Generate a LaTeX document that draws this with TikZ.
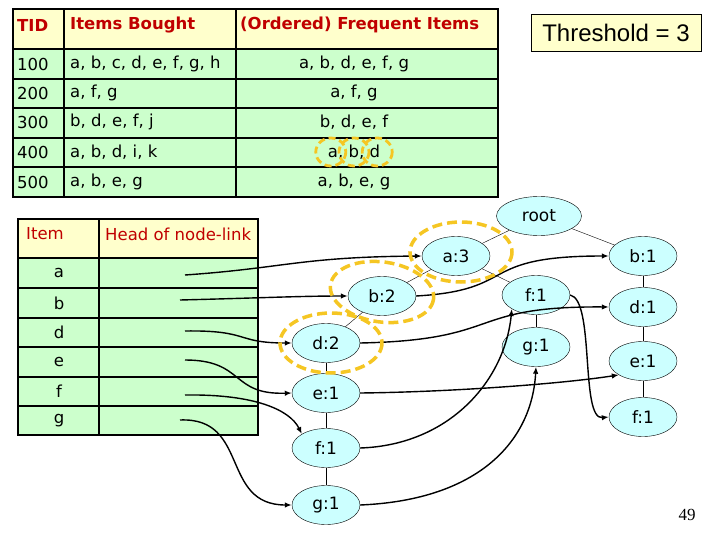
\documentclass[tikz,border=0pt]{standalone}
\usepackage{fontspec}
\setmainfont{DejaVu Sans}
\newfontfamily\arialfont{Liberation Sans}
\newfontfamily\numfont{Liberation Serif}
\usetikzlibrary{shapes.geometric,arrows.meta}

\definecolor{hdyellow}{HTML}{FFFFCC}
\definecolor{rowgreen}{HTML}{CCFFCC}
\definecolor{fpcyan}{HTML}{CCFFFF}
\definecolor{hdred}{HTML}{C00000}
\definecolor{hlgold}{HTML}{F5C623}

\newcommand{\tabsize}{\fontsize{16.5}{19}\selectfont}
\newcommand{\treesize}{\fontsize{17}{20}\selectfont}

\tikzset{
  celltext/.style={font=\tabsize, inner sep=1pt},
  hdtext/.style={celltext, text=hdred, anchor=west},
  fpnode/.style={ellipse, draw, thin, fill=fpcyan, minimum width=68pt,
    minimum height=39pt, inner sep=0pt, font=\treesize},
  treeedge/.style={thin},
  link/.style={line width=1.4pt, -{Latex[length=7pt,width=5.5pt]}},
  hl/.style={draw=hlgold, line width=3.5pt, dash pattern=on 10pt off 5pt},
  hlsmall/.style={draw=hlgold, line width=2.8pt, dash pattern=on 7pt off 4pt}
}

\begin{document}
\begin{tikzpicture}[x=1pt,y=-1pt]
    \useasboundingbox (0,0) rectangle (720,540);

    % transaction table
    \fill[hdyellow] (13,9) rectangle (498,49);
    \fill[rowgreen] (13,49) rectangle (498,197);
    \foreach \y in {49,79,108,138,167}
      \draw[line width=1.5pt] (13,\y) -- (498,\y);
    \draw[line width=1.5pt] (64,9) -- (64,197);
    \draw[line width=1.5pt] (236,9) -- (236,197);
    \draw[line width=2.5pt] (13,9) rectangle (498,197);

    \node[hdtext] (tid) at (16,25) {\bfseries TID};
    \node[hdtext] (bought) at (69,25) {\bfseries Items Bought};
    \node[hdtext] (freq) at (239,25) {\bfseries (Ordered) Frequent Items};

    \foreach \y/\tid/\items/\freq [count=\i] in
      {64/100/{a, b, c, d, e, f, g, h}/{a, b, d, e, f, g},
       93/200/{a, f, g}/{a, f, g},
       122/300/{b, d, e, f, j}/{b, d, e, f},
       152/400/{a, b, d, i, k}/{a, b, d},
       182/500/{a, b, e, g}/{a, b, e, g}}
    {
      \node[celltext, anchor=west] (tid\i) at (16,\y) {\tid};
      \node[celltext, anchor=west] (items\i) at (69,\y) {\items};
      \node[celltext] (freq\i) at (354,\y) {\freq};
    }

    \node[draw, thin, fill=hdyellow, minimum width=170pt, minimum height=37pt,
      font=\arialfont\fontsize{24}{28}\selectfont] (threshold) at (616,33) {Threshold = 3};

    % header table
    \fill[hdyellow] (18,219) rectangle (258,258);
    \fill[rowgreen] (18,258) rectangle (258,435);
    \foreach \y in {258,288,318,347,377,406}
      \draw[line width=1.5pt] (18,\y) -- (258,\y);
    \draw[line width=1.5pt] (99,219) -- (99,435);
    \draw[line width=2.5pt] (18,219) rectangle (258,435);

    \node[hdtext] (itemhd) at (25,234) {Item};
    \node[hdtext] (headhd) at (104,234) {Head of node-link};

    \foreach \it/\y in {a/273,b/303,d/332,e/362,f/391,g/421}
      \node[celltext] (item-\it) at (59,\y) {\it};

    \coordinate (link-a) at (185,275);
    \coordinate (link-b) at (180,300);
    \coordinate (link-d) at (185,331);
    \coordinate (link-e) at (185,360);
    \coordinate (link-f) at (185,395);
    \coordinate (link-g) at (180,420);

    % FP-tree
    \node[fpnode, minimum width=85pt] (root) at (539,216) {root};
    \node[fpnode] (a3) at (456,256) {a:3};
    \node[fpnode] (b2) at (382,296) {b:2};
    \node[fpnode] (d2) at (326,343) {d:2};
    \node[fpnode] (e1l) at (326,393) {e:1};
    \node[fpnode] (f1l) at (326,448) {f:1};
    \node[fpnode] (g1l) at (326,505) {g:1};
    \node[fpnode] (f1m) at (536,295) {f:1};
    \node[fpnode] (g1m) at (536,347) {g:1};
    \node[fpnode] (b1) at (643,256) {b:1};
    \node[fpnode] (d1) at (643,307) {d:1};
    \node[fpnode] (e1r) at (643,361) {e:1};
    \node[fpnode] (f1r) at (643,417) {f:1};

    \foreach \u/\v in {root/a3,root/b1,a3/b2,a3/f1m,b2/d2,d2/e1l,e1l/f1l,
                       f1l/g1l,f1m/g1m,b1/d1,d1/e1r,e1r/f1r}
      \draw[treeedge] (\u) -- (\v);

    % node-links
    \draw[link] (link-a) .. controls (285,268) and (300,257) .. (a3.west);
    \draw[link] (link-b) .. controls (260,298) and (300,296) .. (b2.west);
    \draw[link] (link-d) .. controls (250,330) and (235,343) .. (d2.west);
    \draw[link] (link-e) .. controls (245,360) and (230,395) .. (e1l.west);
    \draw[link] (link-f) .. controls (255,394) and (290,410) .. (f1l.north west);
    \draw[link] (link-g) .. controls (250,417) and (220,505) .. (g1l.west);
    \draw[link] (b2.east) .. controls (520,290) and (475,256) .. (b1.west);
    \draw[link] (d2.east) .. controls (505,340) and (465,306) .. (d1.west);
    \draw[link] (e1l.east) .. controls (450,392) and (560,384) .. (e1r.south west);
    \draw[link] (f1l.east) .. controls (450,445) and (505,380) .. (f1m.south west);
    \draw[link] (g1l.east) .. controls (480,500) and (532,440) .. (g1m.south);
    \draw[link] (f1m.east) .. controls (595,300) and (580,420) .. (f1r.west);

    % prefix paths of f
    \draw[hl] (461,252) ellipse (51 and 30);
    \draw[hl, rotate around={-8:(382,292)}] (382,292) ellipse (52 and 30);
    \draw[hl] (331,343) ellipse (51 and 30);
    \draw[hlsmall] ([xshift=4pt]freq4.west) ellipse (15 and 14);
    \draw[hlsmall] (freq4.center) ellipse (15 and 14);
    \draw[hlsmall] ([xshift=-4pt]freq4.east) ellipse (15 and 14);

    \node[font=\numfont\fontsize{17}{20}\selectfont] (pagenum) at (687,515) {49};
\end{tikzpicture}
\end{document}
